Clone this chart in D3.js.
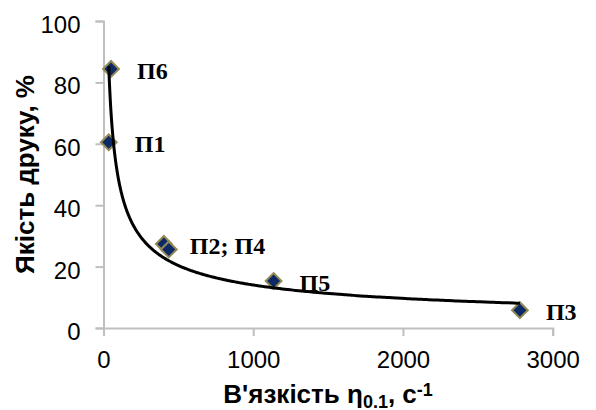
<!DOCTYPE html>
<html lang="uk">
<head>
<meta charset="UTF-8">
<title>Якість друку</title>
<script src="https://d3js.org/d3.v7.min.js"></script>
<style>
  body { margin: 0; background: #fff; }
  svg { display: block; }
</style>
</head>
<body>
<svg id="chart" width="596" height="410"></svg>
<script>
// data
const names = ["П1", "П2", "П3", "П4", "П5", "П6"];
const viscosity = [35, 403, 2781, 436, 1136, 50];
const quality = [60.5, 27.4, 5.8, 25.6, 15.3, 84.4];
const pointLabels = ["П1", "П2; П4", "П3", "", "П5", "П6"];
const xTicks = [0, 1000, 2000, 3000];
const yTicks = [0, 20, 40, 60, 80, 100];

const svg = d3.select("#chart");
const plotLeft = 103.5, plotRight = 552.7, plotTop = 21, plotBottom = 328;

const x = d3.scaleLinear().domain([0, 3000]).range([plotLeft, plotRight]);
const y = d3.scaleLinear().domain([0, 100]).range([plotBottom, plotTop]);

const points = names.map((n, i) => ({name: n, vx: viscosity[i], q: quality[i], label: pointLabels[i]}));

// axes
const gx = svg.append("g")
    .attr("transform", `translate(0,${plotBottom})`)
    .call(d3.axisBottom(x).tickValues(xTicks).tickSize(8).tickPadding(15).tickFormat(d3.format("d")));
const gy = svg.append("g")
    .attr("transform", `translate(${plotLeft},0)`)
    .call(d3.axisLeft(y).tickValues(yTicks).tickSize(8).tickPadding(15).tickFormat(d3.format("d")));

[gx, gy].forEach(g => {
    g.select(".domain").attr("stroke", "#bfbfbf").attr("stroke-width", 2);
    g.selectAll(".tick line").attr("stroke", "#bfbfbf").attr("stroke-width", 2);
    g.selectAll(".tick text")
        .attr("fill", "#000")
        .style("font-family", "'Liberation Sans', Arial, sans-serif")
        .style("font-size", "24px");
});
gy.selectAll(".tick text").attr("dy", "0.48em");

// markers
svg.append("g")
    .selectAll("path")
    .data(points)
    .join("path")
    .attr("d", d3.symbol().type(d3.symbolSquare).size(125))
    .attr("transform", d => `translate(${x(d.vx)},${y(d.q)}) rotate(45)`)
    .attr("fill", "#0d2a66")
    .attr("stroke", "#938a55")
    .attr("stroke-width", 2);

// power trendline fitted on logs of the data (as Excel does)
const lx = points.map(d => Math.log(d.vx)), ly = points.map(d => Math.log(d.q));
const mx = d3.mean(lx), my = d3.mean(ly);
const b = d3.sum(lx, (v, i) => (v - mx) * (ly[i] - my)) / d3.sum(lx, v => (v - mx) * (v - mx));
const a = Math.exp(my - b * mx);
const xMin = d3.min(viscosity), xMax = d3.max(viscosity);
const trend = d3.range(0, 301).map(i => {
    const vx = xMin * Math.pow(xMax / xMin, i / 300);
    return [vx, a * Math.pow(vx, b)];
});
svg.append("path")
    .datum(trend)
    .attr("fill", "none")
    .attr("stroke", "#000")
    .attr("stroke-width", 3)
    .attr("d", d3.line().x(d => x(d[0])).y(d => y(d[1])).curve(d3.curveMonotoneX));

// point labels
svg.append("g")
    .selectAll("text")
    .data(points.filter(d => d.label))
    .join("text")
    .attr("x", d => x(d.vx) + 26)
    .attr("y", d => y(d.q) + 10)
    .style("font-family", "'Liberation Serif', 'Times New Roman', serif")
    .style("font-weight", "bold")
    .style("font-size", "24px")
    .text(d => d.label);

// axis titles
const xt = svg.append("text")
    .attr("x", (plotLeft + plotRight) / 2)
    .attr("y", 403)
    .attr("text-anchor", "middle")
    .style("font-family", "'Liberation Sans', Arial, sans-serif")
    .style("font-weight", "bold")
    .style("font-size", "26px");
xt.append("tspan").text("В'язкість η");
xt.append("tspan").attr("baseline-shift", "-25%").style("font-size", "18px").text("0.1");
xt.append("tspan").text(", с");
xt.append("tspan").attr("baseline-shift", "40%").style("font-size", "18px").text("-1");

svg.append("text")
    .attr("transform", `translate(34,${(plotTop + plotBottom) / 2}) rotate(-90)`)
    .attr("text-anchor", "middle")
    .style("font-family", "'Liberation Sans', Arial, sans-serif")
    .style("font-weight", "bold")
    .style("font-size", "26px")
    .text("Якість друку, %");
</script>
</body>
</html>
